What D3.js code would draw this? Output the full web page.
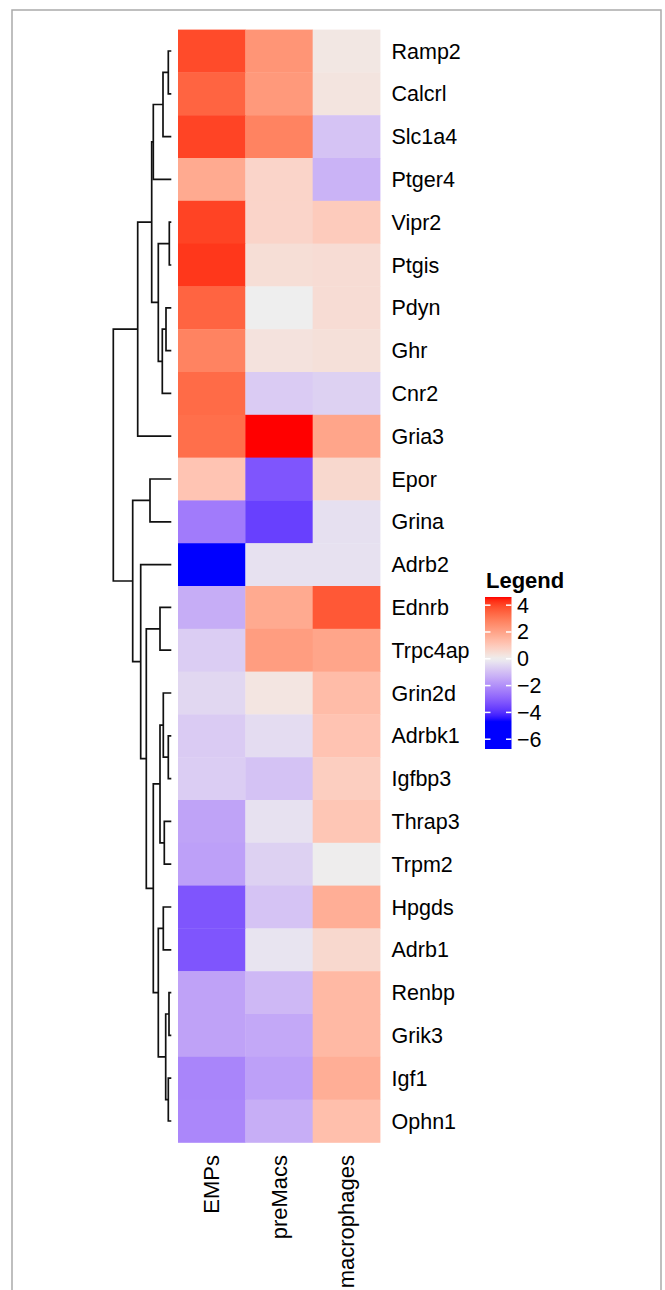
<!DOCTYPE html>
<html>
<head>
<meta charset="utf-8">
<script src="https://cdn.jsdelivr.net/npm/d3@7"></script>
<style>
  body { margin: 0; background: #fff; }
  text { font-family: "Liberation Sans", Arial, Helvetica, sans-serif; fill: #000; }
</style>
</head>
<body>
<div id="chart"></div>
<script>
// rows, in the order they are shown (dendrogram order)
const genes = ["Ramp2", "Calcrl", "Slc1a4", "Ptger4", "Vipr2", "Ptgis", "Pdyn", "Ghr", "Cnr2", "Gria3",
  "Epor", "Grina", "Adrb2", "Ednrb", "Trpc4ap", "Grin2d", "Adrbk1", "Igfbp3", "Thrap3", "Trpm2",
  "Hpgds", "Adrb1", "Renbp", "Grik3", "Igf1", "Ophn1"];
const samples = ["EMPs", "preMacs", "macrophages"];

// values per column, same order as genes
const empsValues = [3.93, 3.46, 4.03, 1.82, 4.05, 4.21, 3.46, 2.78, 3.33, 3.24,
  1.14, -2.44, -6.7, -1.37, -0.69, -0.48, -0.73, -0.69, -1.59, -1.65,
  -3.25, -3.25, -1.61, -1.61, -2.22, -2.18];
const premacsValues = [2.36, 2.26, 2.78, 0.71, 0.71, 0.45, 0.0, 0.32, -0.72, 4.6,
  -3.25, -3.69, -0.26, 1.82, 2.15, 0.24, -0.38, -0.91, -0.26, -0.6,
  -0.89, -0.21, -1.13, -1.48, -1.65, -1.35];
const macrophageValues = [0.2, 0.28, -0.89, -1.24, 0.96, 0.5, 0.5, 0.39, -0.6, 1.95,
  0.6, -0.3, -0.26, 3.69, 1.94, 1.34, 1.16, 0.87, 1.09, 0.02,
  1.71, 0.6, 1.43, 1.43, 1.71, 1.26];

// row clustering, hclust style: a string is a gene, a number is an earlier merge (1-based)
const merges = [
  ["Ramp2", "Calcrl"], [1, "Slc1a4"], [2, "Ptger4"],
  ["Vipr2", "Ptgis"], ["Pdyn", "Ghr"], [5, "Cnr2"], [4, 6],
  [3, 7], [8, "Gria3"],
  ["Epor", "Grina"], ["Ednrb", "Trpc4ap"],
  ["Adrbk1", "Igfbp3"], ["Grin2d", 12], ["Thrap3", "Trpm2"], [13, 14],
  ["Hpgds", "Adrb1"], ["Renbp", "Grik3"], ["Igf1", "Ophn1"], [17, 18], [16, 19],
  [15, 20], [11, 21], ["Adrb2", 22], [10, 23], [9, 24]
];
const mergeHeights = [0.30, 0.83, 1.80, 0.20, 0.53, 0.90, 1.30, 1.96, 3.36,
  2.13, 1.13, 0.30, 0.80, 0.70, 1.13, 0.80, 0.23, 0.30, 0.56, 1.30,
  1.80, 2.50, 3.06, 3.86, 5.80];

const legendTicks = [4, 2, 0, -2, -4, -6];
const legendRange = [-6.73, 4.61];

const columns = [empsValues, premacsValues, macrophageValues];
const cells = genes.flatMap((g, i) => samples.map((s, j) => ({ gene: g, sample: s, value: columns[j][i] })));

const width = 665, height = 1290;

const svg = d3.select("#chart")
  .append("svg")
  .attr("width", width)
  .attr("height", height);

// outer frame (runs off the bottom)
svg.append("rect")
  .attr("x", 12).attr("y", 10)
  .attr("width", 649).attr("height", 1300)
  .attr("fill", "#fff")
  .attr("stroke", "#aaa")
  .attr("stroke-width", 1.5);

// scales
const xScale = d3.scaleBand().domain(samples).range([178, 380]);
const yScale = d3.scaleBand().domain(genes).range([29.6, 1142.4]);
const color = d3.scaleLinear()
  .domain([-4.6, 0, 4.6])
  .range(["#0000ff", "#eeeeee", "#ff0000"])
  .interpolate(d3.interpolateLab)
  .clamp(true);

// heatmap cells
svg.append("g")
  .selectAll("rect")
  .data(cells)
  .enter().append("rect")
  .attr("x", d => xScale(d.sample))
  .attr("y", d => yScale(d.gene))
  .attr("width", xScale.bandwidth() + 0.4)
  .attr("height", yScale.bandwidth() + 0.4)
  .attr("fill", d => color(d.value));

// dendrogram
const hScale = d3.scaleLinear().domain([0, d3.max(mergeHeights)]).range([171.3, 113.3]);
const nodes = [];
function nodePos(ref) {
  if (typeof ref === "string") return { x: hScale(0), y: yScale(ref) + yScale.bandwidth() / 2 };
  return nodes[ref - 1];
}
const links = merges.map((m, i) => {
  const a = nodePos(m[0]), b = nodePos(m[1]);
  const nx = hScale(mergeHeights[i]);
  nodes.push({ x: nx, y: (a.y + b.y) / 2 });
  return `M${a.x},${a.y}H${nx}V${b.y}H${b.x}`;
});
svg.append("g")
  .selectAll("path")
  .data(links)
  .enter().append("path")
  .attr("d", d => d)
  .attr("fill", "none")
  .attr("stroke", "#111")
  .attr("stroke-width", 1.7);

// row labels
svg.append("g")
  .selectAll("text")
  .data(genes)
  .enter().append("text")
  .attr("x", 391.5)
  .attr("y", d => yScale(d) + yScale.bandwidth() / 2)
  .attr("dy", "0.35em")
  .style("font-size", "21.5px")
  .text(d => d);

// column labels
svg.append("g")
  .selectAll("text")
  .data(samples)
  .enter().append("text")
  .attr("transform", d => `translate(${xScale(d) + xScale.bandwidth() / 2},1155) rotate(-90)`)
  .attr("text-anchor", "end")
  .attr("dy", "0.35em")
  .style("font-size", "22px")
  .text(d => d);

// legend
const legendScale = d3.scaleLinear().domain(legendRange).range([749, 597]);
const legendX = 485, legendW = 26.5;

const grad = svg.append("defs").append("linearGradient")
  .attr("id", "legendGrad")
  .attr("x1", 0).attr("y1", 1).attr("x2", 0).attr("y2", 0);
d3.range(0, 1.0001, 0.02).forEach(t => {
  const v = legendRange[0] + t * (legendRange[1] - legendRange[0]);
  grad.append("stop").attr("offset", t).attr("stop-color", color(v));
});

svg.append("text")
  .attr("x", 486)
  .attr("y", 588)
  .style("font-size", "22px")
  .style("font-weight", "bold")
  .text("Legend");

svg.append("rect")
  .attr("x", legendX)
  .attr("y", legendScale(legendRange[1]))
  .attr("width", legendW)
  .attr("height", legendScale(legendRange[0]) - legendScale(legendRange[1]))
  .attr("fill", "url(#legendGrad)");

const tickG = svg.append("g");
tickG.selectAll("line.l")
  .data(legendTicks)
  .enter().append("line")
  .attr("x1", legendX).attr("x2", legendX + 5.5)
  .attr("y1", d => legendScale(d)).attr("y2", d => legendScale(d))
  .attr("stroke", "#fff").attr("stroke-width", 1.5);
tickG.selectAll("line.r")
  .data(legendTicks)
  .enter().append("line")
  .attr("x1", legendX + legendW - 5.5).attr("x2", legendX + legendW)
  .attr("y1", d => legendScale(d)).attr("y2", d => legendScale(d))
  .attr("stroke", "#fff").attr("stroke-width", 1.5);

const legendAxis = svg.append("g")
  .attr("transform", `translate(${legendX + legendW},0)`)
  .call(d3.axisRight(legendScale).tickValues(legendTicks).tickSize(0).tickPadding(5.5).tickFormat(d3.format("d")));
legendAxis.select(".domain").remove();
legendAxis.selectAll("text")
  .style("font-size", "21.5px")
  .style("font-family", "'Liberation Sans', Arial, sans-serif")
  .attr("fill", "#000");
</script>
</body>
</html>
